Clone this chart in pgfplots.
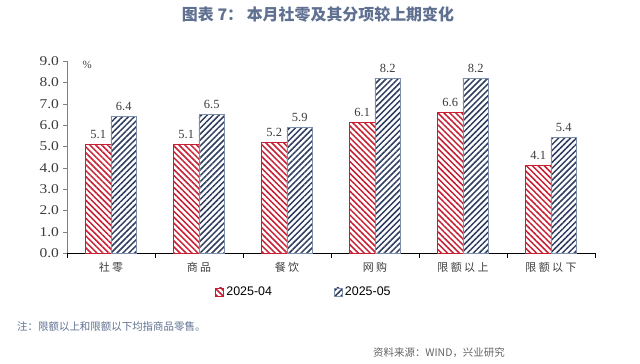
\documentclass[border=0pt]{standalone}
\usepackage{pgfplots}
\pgfplotsset{compat=1.18}
\usepackage{fontspec}
\setmainfont{Liberation Serif}
\newfontfamily\cjk{Noto Sans CJK SC}
\newfontfamily\cjksp[LetterSpace=22]{Noto Sans CJK SC}
\newfontfamily\arial{Liberation Sans}
\usetikzlibrary{patterns.meta}
\definecolor{myred}{RGB}{200,30,50}
\definecolor{mynavy}{RGB}{45,60,95}
\definecolor{navyedge}{RGB}{125,142,170}
\definecolor{titleblue}{RGB}{95,112,145}
\definecolor{txtgray}{RGB}{60,60,60}
\begin{document}
\begin{tikzpicture}
\useasboundingbox (0bp,0bp) rectangle (640bp,364bp);
\begin{axis}[
  at={(67bp,111bp)}, anchor=south west,
  width=528bp, height=192bp, scale only axis,
  ymin=0, ymax=9, ytick={0,1,...,9},
  xmin=-0.5, xmax=5.5,
  xtick={0,1,2,3,4,5},
  xticklabels={社零,商品,餐饮,网购,限额以上,限额以下},
  minor xtick={-0.5,0.5,1.5,2.5,3.5,4.5,5.5},
  major x tick style={draw=none},
  minor x tick style={black},
  minor tick length=5bp,
  major tick length=4bp,
  y tick style={gray},
  tick align=outside,
  axis x line*=bottom, axis y line*=left,
  x axis line style={black, -},
  y axis line style={gray, -},
  yticklabel style={font=\fontsize{13.5}{13.5}\selectfont, text=txtgray, xscale=1.15, /pgf/number format/.cd, fixed, fixed zerofill, precision=1, assume math mode=true},
  xticklabel style={font=\cjksp\fontsize{11}{11}\selectfont, text=txtgray, yshift=-2bp},
  ybar=0pt, bar width=25.5bp,
  nodes near coords={\pgfmathprintnumber[fixed,fixed zerofill,precision=1,assume math mode=true]{\pgfplotspointmeta}},
  nodes near coords style={font=\fontsize{12.5}{12.5}\selectfont, text=txtgray, yshift=2bp},
  legend style={at={(0.449,-0.203)}, anchor=center, draw=none, fill=none,
    legend columns=2, font=\arial\fontsize{12.5}{12.5}\selectfont,
    /tikz/every even column/.append style={column sep=60bp}},
  legend image code/.code={\draw[#1] (0bp,-4bp) rectangle (8bp,4bp);},
  clip=false,
]
\addplot[draw=myred, line width=0.9bp, pattern={Lines[angle=-45,distance=4.2bp,line width=1.5bp]}, pattern color=myred]
  coordinates {(0,5.1) (1,5.1) (2,5.2) (3,6.1) (4,6.6) (5,4.1)};
\addplot[draw=navyedge, line width=0.9bp, pattern={Lines[angle=45,distance=4.2bp,line width=1.5bp]}, pattern color=mynavy]
  coordinates {(0,6.4) (1,6.5) (2,5.9) (3,8.2) (4,8.2) (5,5.4)};
\legend{2025-04,2025-05}
\node[font=\fontsize{11}{11}\selectfont, text=txtgray] at (axis cs:-0.27,8.8) {\%};
\end{axis}
\node[font=\cjk\bfseries\fontsize{16}{16}\selectfont, text=titleblue] at (318bp,350bp) {图表 7： 本月社零及其分项较上期变化};
\node[anchor=west, font=\cjk\fontsize{10.5}{10.5}\selectfont, text=titleblue, inner sep=0pt] at (17bp,37bp) {注：限额以上和限额以下均指商品零售。};
\node[anchor=east, font=\cjk\fontsize{10.5}{10.5}\selectfont, text=txtgray!80, inner sep=0pt] at (505bp,11bp) {资料来源：WIND，兴业研究};
\end{tikzpicture}
\end{document}
